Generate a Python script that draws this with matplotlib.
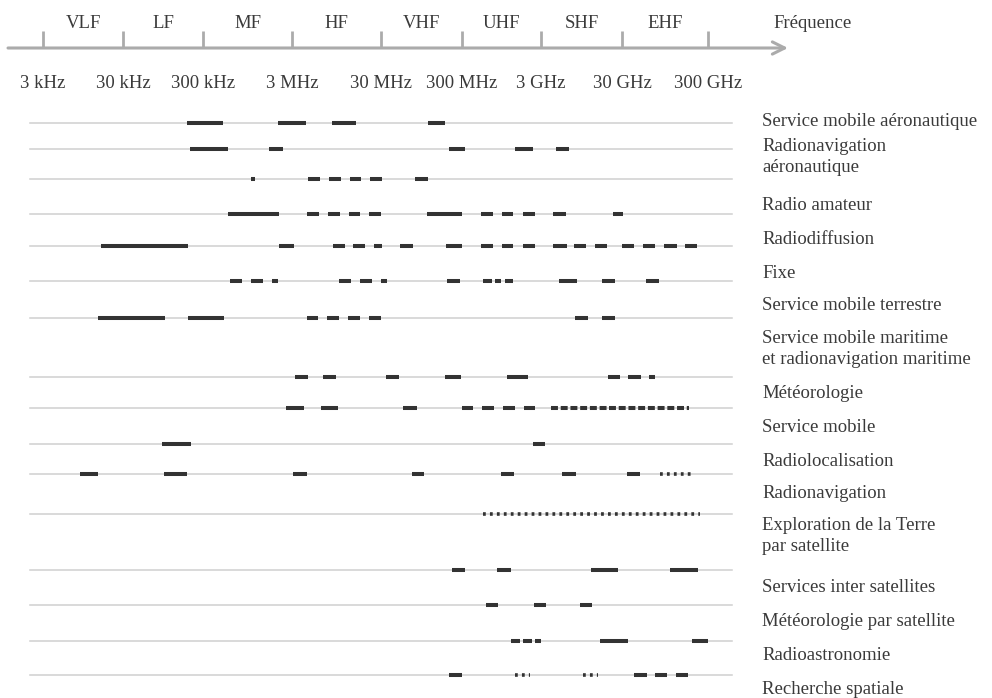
import numpy as np
import matplotlib
matplotlib.use("Agg")
from matplotlib import pyplot as plt

plt.rcParams['font.family'] = ['Liberation Serif', 'DejaVu Serif']
plt.rcParams['lines.scale_dashes'] = False

# band edges (MHz) and names for the top axis
band_edges = [0.003, 0.03, 0.3, 3, 30, 300, 3000, 30000, 300000]
edge_labels = ["3 kHz", "30 kHz", "300 kHz", "3 MHz", "30 MHz", "300 MHz",
               "3 GHz", "30 GHz", "300 GHz"]
band_names = ["VLF", "LF", "MF", "HF", "VHF", "UHF", "SHF", "EHF"]

services = [
    "Service mobile aéronautique",
    "Radionavigation\naéronautique",
    "Radio amateur",
    "Radiodiffusion",
    "Fixe",
    "Service mobile terrestre",
    "Service mobile maritime\net radionavigation maritime",
    "Météorologie",
    "Service mobile",
    "Radiolocalisation",
    "Radionavigation",
    "Exploration de la Terre\npar satellite",
    "Services inter satellites",
    "Météorologie par satellite",
    "Radioastronomie",
    "Recherche spatiale",
]

# allocated bands per line, in MHz (start, end)
bands = [
    [(0.189, 0.504), (2.09, 4.31), (8.43, 15.7), (114, 185)],
    [(0.206, 0.573), (1.66, 2.38), (208, 327), (1400, 2380), (4590, 6660)],
    [(1.04, 1.15), (4.53, 6.19), (7.82, 10.7), (13.4, 17.9), (22.6, 30.9),
     (78.9, 114)],
    [(0.573, 2.14), (4.42, 6.04), (7.61, 10.4), (13.1, 17.4), (22.0, 30),
     (111, 300), (522, 740), (962, 1330), (1780, 2520), (4220, 6110),
     (23200, 30800)],
    [(0.0159, 0.195), (2.14, 3.16), (8.67, 11.8), (14.5, 19.8), (25.0, 30.9),
     (51.5, 74.5), (191, 300), (522, 740), (962, 1330), (1780, 2520),
     (4220, 6280), (7670, 10800), (13900, 19600), (30000, 41400),
     (52600, 72600), (92300, 131000), (162000, 224000)],
    [(0.604, 0.823), (1.04, 1.42), (1.79, 2.09), (10.1, 13.8), (17.4, 23.8),
     (30, 35.6), (196, 284), (553, 720), (785, 935), (1050, 1330),
     (5000, 8350), (17000, 24600), (57000, 80800)],
    [(0.0146, 0.1005), (0.195, 0.516), (4.42, 5.88), (7.42, 10.1),
     (12.8, 17.4), (22.0, 30), (7890, 11400), (17000, 24600)],
    [(3.24, 4.53), (6.69, 9.37), (34.6, 50.0), (185, 292), (1110, 2050),
     (20100, 28400), (35200, 49900), (61800, 72600)],
    [(2.57, 4.09), (6.36, 9.86), (56.1, 83.5), (300, 413), (538, 762),
     (991, 1410), (1830, 2520)],
    [(0.0921, 0.212), (2380, 3360)],
    [(0.0087, 0.0146), (0.0976, 0.189), (3.08, 4.42), (72.4, 102),
     (935, 1370), (5450, 8110), (34300, 48600)],
    [],
    [(226, 327), (832, 1250), (12400, 26800), (108000, 230000)],
    [(604, 857), (2450, 3460), (9090, 12800)],
    [(1250, 1630), (1780, 2310), (2520, 3000), (16000, 35200),
     (196000, 300000)],
    [(208, 300), (41400, 58600), (72600, 100000), (127000, 175000)],
]

# runs of many narrow bands (line index, start, end) in MHz
dashed_runs = [(8, 3990, 19600), (8, 20700, 180000)]
dotted_runs = [(10, 83000, 190000), (11, 553, 242000),
               (15, 1410, 2180), (15, 9900, 15200)]

line_span = (0.00206, 570000)

# layout (pixel rows)
line_y = [123, 149, 179, 214, 246, 281, 318, 377, 408, 444, 474, 514,
          570, 605, 641, 675]
label_y = [121, 157, 205, 240, 273, 305, 349, 394, 428, 462, 494, 536,
           588, 622, 656, 690]

# piecewise log scale following the drawn decade ticks
dec_px = np.array([-37, 43, 123, 203, 292, 381, 462, 541, 622, 708, 1052])
dec_log = np.log10(0.003) + np.array([-1, 0, 1, 2, 3, 4, 5, 6, 7, 8, 12])


def fwd(f):
    return np.interp(np.log10(np.clip(f, 1e-9, None)), dec_log, dec_px)


def inv(x):
    return 10 ** np.interp(x, dec_px, dec_log)


W, H = 992, 698
fig = plt.figure(figsize=(W / 100, H / 100), dpi=100)
ax = fig.add_axes([0, 0, 1, 1])
ax.set_xscale('function', functions=(fwd, inv))
ax.set_xlim(inv(0), inv(W))
ax.set_ylim(H, 0)
ax.axis('off')

txt = '#3a3a3a'
axis_grey = '#ababab'
bar = '#333333'
fs = 13.5

# frequency axis with arrow
ax.annotate('', xy=(788 / W, 48), xytext=(8 / W, 48),
            xycoords=('axes fraction', 'data'),
            textcoords=('axes fraction', 'data'),
            arrowprops=dict(arrowstyle='->', color=axis_grey, lw=2.2,
                            mutation_scale=22, shrinkA=0, shrinkB=0))
for e, lab in zip(band_edges, edge_labels):
    ax.plot([e, e], [31, 48], color=axis_grey, lw=2, solid_capstyle='butt')
    ax.text(e, 83, lab, ha='center', va='center', fontsize=fs, color=txt)
mids = np.sqrt(np.array(band_edges[:-1]) * np.array(band_edges[1:]))
for m, name in zip(mids, band_names):
    ax.text(m, 24, name, ha='center', va='center', fontsize=fs, color=txt)
ax.text(773 / W, 24, "Fréquence", transform=ax.get_yaxis_transform(),
        ha='left', va='center', fontsize=fs, color=txt)

# service lines and bands
for i, y in enumerate(line_y):
    ax.plot(line_span, [y, y], color='#cfcfcf', lw=1.1, zorder=1)
    for a, b in bands[i]:
        ax.plot([a, b], [y, y], color=bar, lw=2.9, solid_capstyle='butt',
                zorder=2)

for i, a, b in dashed_runs:
    ax.plot([a, b], [line_y[i], line_y[i]], color=bar, lw=2.9,
            dashes=(5, 2), dash_capstyle='butt', zorder=2)
for i, a, b in dotted_runs:
    ax.plot([a, b], [line_y[i], line_y[i]], color=bar, lw=2.6,
            dashes=(2, 3), dash_capstyle='butt', zorder=2)

for name, y in zip(services, label_y):
    ax.text(762 / W, y, name, transform=ax.get_yaxis_transform(),
            ha='left', va='center', fontsize=fs, color=txt,
            linespacing=1.32)

fig.savefig('out.png', dpi=100)
